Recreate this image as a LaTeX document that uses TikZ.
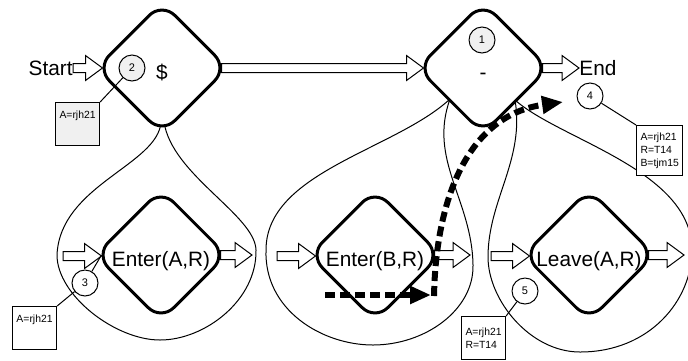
\documentclass[tikz,border=0pt]{standalone}
\usepackage{fontspec}
\setmainfont{Liberation Sans}
\usetikzlibrary{shapes.geometric,arrows.meta,calc,backgrounds}

\tikzset{
  state/.style={diamond, draw, line width=1.5pt, rounded corners=9pt, fill=white,
    minimum size=66pt, inner sep=0pt, text height=11pt, text depth=0pt,
    font=\fontsize{10.4}{12}\selectfont},
  lbl/.style={inner sep=0pt, font=\fontsize{10.4}{12}\selectfont},
  tag/.style={circle, draw, line width=0.5pt, minimum size=13pt, inner sep=0pt,
    fill=white, font=\fontsize{5.5}{6}\selectfont},
  note/.style={draw, line width=0.5pt, fill=white, anchor=north west,
    inner xsep=2pt, inner ysep=3pt, align=left, font=\fontsize{5.2}{6.5}\selectfont},
  region/.style={line width=0.5pt},
  link/.style={line width=0.5pt},
  flowline/.style={draw, fill=white, line width=0.5pt},
  trace/.style={line width=3pt, dash pattern=on 5pt off 2.5pt,
    -{Triangle[length=10.5pt,width=8.5pt]}},
}

% hollow block arrow, left to right on one line
\newcommand{\flow}[2]{%
  \path[flowline] let \p1=(#1), \p2=(#2) in
    (\x1,\y1+2.25pt) -- (\x2-8.5pt,\y1+2.25pt) -- (\x2-8.5pt,\y1+6.25pt)
    -- (\x2,\y1) -- (\x2-8.5pt,\y1-6.25pt) -- (\x2-8.5pt,\y1-2.25pt)
    -- (\x1,\y1-2.25pt) -- cycle;}

\begin{document}
\begin{tikzpicture}[x=0.5pt,y=-0.5pt]
  \useasboundingbox (0,0) rectangle (688,360);

  % top line
  \node[lbl, anchor=east] (start) at (73,68) {Start};
  \node[state] (dollar) at (162,68) {\makebox[0pt]{\$}};
  \node[state] (dash) at (483,68) {\makebox[0pt]{-}};
  \node[lbl, anchor=west] (end) at (579,68) {End};

  % sub-steps
  \node[state] (enterA) at (161,255) {\makebox[0pt]{Enter(A,R)}};
  \node[state] (enterB) at (375,255) {\makebox[0pt]{Enter(B,R)}};
  \node[state] (leaveA) at (589,255) {\makebox[0pt]{Leave(A,R)}};
  \coordinate (inA) at (63,256);
  \coordinate (outA) at (252,256);
  \coordinate (inB) at (277,256);
  \coordinate (outB) at (470,256);
  \coordinate (inL) at (491,256);
  \coordinate (outL) at (684,256);

  \begin{scope}[on background layer]
    % regions
    \draw[region] (161,122) .. controls (158,165) and (60,185) .. (57,255)
      .. controls (57,295) and (115,340) .. (160,340)
      .. controls (205,340) and (257,300) .. (256,250)
      .. controls (255,215) and (172,175) .. (164,122);
    \draw[region] (450,99) .. controls (395,150) and (266,172) .. (266,250)
      .. controls (264,310) and (322,345) .. (373,345)
      .. controls (425,345) and (474,310) .. (473,265)
      .. controls (472,200) and (428,160) .. (450,99);
    \draw[region] (515,100) .. controls (525,160) and (488,200) .. (488,257)
      .. controls (488,300) and (530,352) .. (580,352)
      .. controls (650,352) and (692,300) .. (692,250)
      .. controls (692,170) and (560,140) .. (515,100);
    % flows
    \flow{start.east}{[xshift=4pt]dollar.west}
    \flow{[xshift=-4pt]dollar.east}{[xshift=4pt]dash.west}
    \flow{[xshift=-4pt]dash.east}{end.west}
    \flow{inA}{[xshift=4pt]enterA.west}
    \flow{[xshift=-4pt]enterA.east}{outA}
    \flow{inB}{[xshift=4pt]enterB.west}
    \flow{[xshift=-4pt]enterB.east}{outB}
    \flow{inL}{[xshift=4pt]leaveA.west}
    \flow{[xshift=-4pt]leaveA.east}{outL}
  \end{scope}

  % path taken
  \coordinate (t0) at (325,295);
  \coordinate (t1) at (431,295);
  \coordinate (t2) at (434,296);
  \coordinate (t3) at (563,102);
  \draw[trace] (t0) -- (t1);
  \draw[trace] (t2) .. controls (436,195) and (470,115) .. (t3);

  % bindings
  \node[note, fill=gray!12, text height=5pt, text depth=10.5pt] (n2) at (55,102) {A=rjh21};
  \node[note, text height=5pt, text depth=10.5pt] (n3) at (12,306) {A=rjh21};
  \node[note, minimum height=25pt] (n4) at (636,125) {A=rjh21\\R=T14\\B=tjm15};
  \node[note, minimum height=21.5pt] (n5) at (461,316) {A=rjh21\\R=T14};
  \node[tag, fill=gray!12] (c1) at (482,40) {1};
  \node[tag, fill=gray!12] (c2) at (132,68) {2};
  \node[tag] (c3) at (85,283) {3};
  \node[tag] (c4) at (590,96) {4};
  \node[tag] (c5) at (525,291) {5};
  \draw[link] (n2.north east) -- (c2);
  \draw[link] (n3.north east) -- (c3) -- ([xshift=4pt]enterA.west);
  \draw[link] (c4) -- (n4.north west);
  \draw[link] (c5) -- (n5.north east);
\end{tikzpicture}
\end{document}
